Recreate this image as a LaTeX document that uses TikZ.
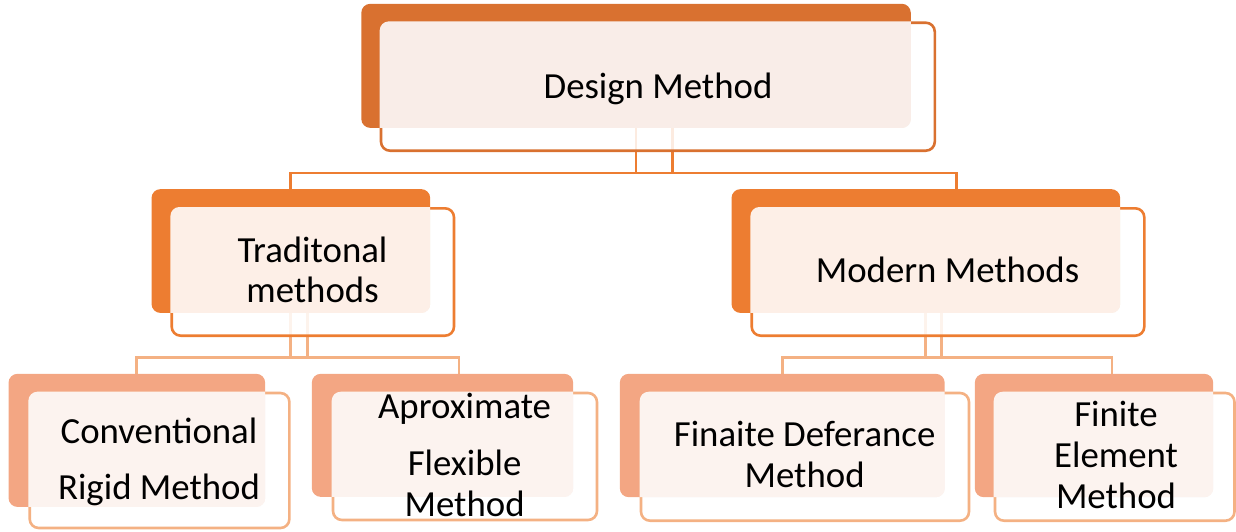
\documentclass[tikz,border=0pt]{standalone}
\usepackage{fontspec}
\setmainfont{Carlito}
\definecolor{or1}{HTML}{D97130}
\definecolor{or2}{HTML}{ED7D31}
\definecolor{or3}{HTML}{F3A683}
\definecolor{ln3}{HTML}{F4B183}
\definecolor{pk1}{HTML}{F9EDE8}
\definecolor{pk2}{HTML}{FDEFE7}
\definecolor{pk3}{HTML}{FCF3EF}
\tikzset{
  backbox/.style={rectangle, rounded corners=9pt, inner sep=0pt, draw=none},
  frontbox/.style={rectangle, rounded corners=9pt, inner sep=0pt, fill=white, fill opacity=0.85, line width=2.6pt},
  conn/.style={line width=2.8pt},
  lbl/.style={anchor=base, inner sep=0pt, font=\fontsize{36.8}{44}\selectfont},
}
\newcommand\pinkarea[3]{%
  \begin{scope}
    \clip[rounded corners=9pt] (#1.north west) rectangle (#1.south east);
    \fill[#3, rounded corners=9pt] (#2.north west) rectangle (#2.south east);
  \end{scope}}
\begin{document}
\begin{tikzpicture}[x=1pt,y=-1pt]
\useasboundingbox (0,0) rectangle (1236,531);
% back boxes (named, drawn later by fill)
\path
  node[backbox, minimum width=549.1pt, minimum height=123.7pt] (dmB) at (636.05,65.85) {}
  node[backbox, minimum width=278.3pt, minimum height=123.4pt] (trB) at (290.85,251) {}
  node[backbox, minimum width=388.3pt, minimum height=123.4pt] (mdB) at (925.85,251) {}
  node[backbox, minimum width=256.3pt, minimum height=132.7pt] (b1B) at (136.85,440.35) {}
  node[backbox, minimum width=261pt, minimum height=122.7pt] (b2B) at (442.5,435.35) {}
  node[backbox, minimum width=324.5pt, minimum height=123pt] (b3B) at (782.25,435.5) {}
  node[backbox, minimum width=238pt, minimum height=123pt] (b4B) at (1094,435.5) {};
% connectors
\draw[conn, or2] (dmB.south) -- ++(0,45) -| (trB.north);
\draw[conn, or2] (dmB.south) -- ++(0,45) -| ([xshift=30.85pt]mdB.north);
\draw[conn, or2] ([xshift=36.5pt]dmB.south) -- ++(0,45);
\draw[conn, ln3] (trB.south) -- ++(0,44.6) -| (b1B.north);
\draw[conn, ln3] (trB.south) -- ++(0,44.6) -| ([xshift=16.5pt]b2B.north);
\draw[conn, ln3] ([xshift=16.8pt]trB.south) -- ++(0,44.6);
\draw[conn, ln3] (mdB.south) -- ++(0,44.6) -| (b3B.north);
\draw[conn, ln3] (mdB.south) -- ++(0,44.6) -| ([xshift=18pt]b4B.north);
\draw[conn, ln3] ([xshift=15.5pt]mdB.south) -- ++(0,44.6);
% back fills
\fill[or1, rounded corners=9pt] (dmB.north west) rectangle (dmB.south east);
\fill[or2, rounded corners=9pt] (trB.north west) rectangle (trB.south east);
\fill[or2, rounded corners=9pt] (mdB.north west) rectangle (mdB.south east);
\foreach \b in {b1B,b2B,b3B,b4B}
  \fill[or3, rounded corners=9pt] (\b.north west) rectangle (\b.south east);
% front boxes
\node[frontbox, draw=or1, minimum width=553.8pt, minimum height=128pt] (dm) at (657.9,86.7) {};
\node[frontbox, draw=or2, minimum width=282.3pt, minimum height=127.4pt] (tr) at (312.85,272) {};
\node[frontbox, draw=or2, minimum width=392.6pt, minimum height=127.4pt] (md) at (948,272) {};
\node[frontbox, draw=ln3, minimum width=259.7pt, minimum height=135pt] (b1) at (159.55,460.5) {};
\node[frontbox, draw=ln3, minimum width=264pt, minimum height=127pt] (b2) at (465,456.5) {};
\node[frontbox, draw=ln3, minimum width=328pt, minimum height=127.7pt] (b3) at (805,456.85) {};
\node[frontbox, draw=ln3, minimum width=239.5pt, minimum height=127.7pt] (b4) at (1114.75,456.85) {};
% text areas
\pinkarea{dm}{dmB}{pk1}
\pinkarea{tr}{trB}{pk2}
\pinkarea{md}{mdB}{pk2}
\pinkarea{b1}{b1B}{pk3}
\pinkarea{b2}{b2B}{pk3}
\pinkarea{b3}{b3B}{pk3}
\pinkarea{b4}{b4B}{pk3}
% labels
\node[lbl] (dmT) at (658,98.3) {Design Method};
\node[lbl] (trT1) at (312.5,262) {Traditonal};
\node[lbl] (trT2) at (312.5,302) {methods};
\node[lbl] (mdT) at (947.5,282) {Modern Methods};
\node[lbl] (b1T1) at (159,443.3) {Conventional};
\node[lbl] (b1T2) at (159,499) {Rigid Method};
\node[lbl] (b2T1) at (464.6,418) {Aproximate};
\node[lbl] (b2T2) at (464.6,475) {Flexible};
\node[lbl] (b2T3) at (464.6,516) {Method};
\node[lbl] (b3T1) at (804.6,446.7) {Finaite Deferance};
\node[lbl] (b3T2) at (804.6,487.7) {Method};
\node[lbl] (b4T1) at (1116,426.7) {Finite};
\node[lbl] (b4T2) at (1116,467.3) {Element};
\node[lbl] (b4T3) at (1116,508) {Method};
\end{tikzpicture}
\end{document}
